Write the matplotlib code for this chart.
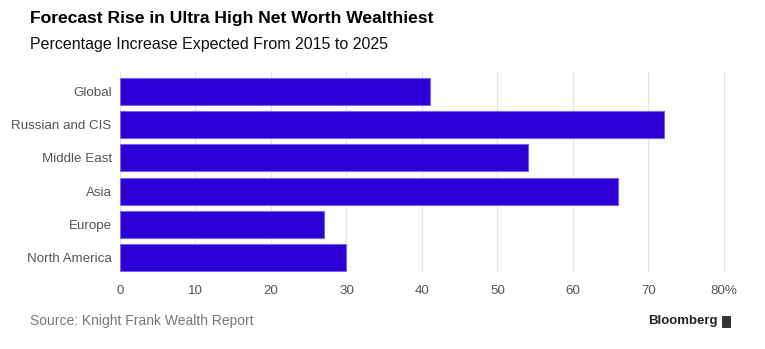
import matplotlib
matplotlib.use("Agg")
import matplotlib.pyplot as plt
from matplotlib.patches import FancyBboxPatch

regions = ["Global", "Russian and CIS", "Middle East", "Asia", "Europe", "North America"]
increase_pct = [41, 72, 54, 66, 27, 30]
x_ticks = [0, 10, 20, 30, 40, 50, 60, 70, 80]
x_tick_labels = ["0", "10", "20", "30", "40", "50", "60", "70", "80%"]

plt.rcParams["font.family"] = ["Liberation Sans", "DejaVu Sans"]

fig = plt.figure(figsize=(7.65, 3.49), dpi=100)
ax = fig.add_axes([120 / 765, 1 - 272 / 349, 619 / 765, 200 / 349])

ax.barh(range(len(regions)), increase_pct, height=0.81, color="#2a00d4",
        edgecolor="#7a63ee", linewidth=0.8, zorder=3)

ax.set_xlim(0, 82)
ax.set_ylim(5.43, -0.57)
ax.set_yticks(range(len(regions)))
ax.set_yticklabels(regions)
ax.set_xticks(x_ticks)
ax.set_xticklabels(x_tick_labels)
ax.tick_params(axis="both", length=0, labelsize=9.6, colors="#555555")
ax.tick_params(axis="y", pad=6)
ax.tick_params(axis="x", pad=9)
ax.grid(axis="x", color="#e5e5e5", linewidth=0.8, zorder=0)
for s in ax.spines.values():
    s.set_visible(False)

fig.text(30 / 765, 1 - 19 / 349, "Forecast Rise in Ultra High Net Worth Wealthiest",
         fontsize=12.6, fontweight="bold", color="#000000", va="center", ha="left")
fig.text(30 / 765, 1 - 44 / 349, "Percentage Increase Expected From 2015 to 2025",
         fontsize=11.5, color="#111111", va="center", ha="left")
fig.text(30 / 765, 1 - 321 / 349, "Source: Knight Frank Wealth Report",
         fontsize=10, color="#777777", va="center", ha="left")
fig.text(718 / 765, 1 - 321 / 349, "Bloomberg", fontsize=9.5, fontweight="bold",
         color="#222222", va="center", ha="right")

# small logo mark next to the wordmark
logo = FancyBboxPatch((722 / 765, 1 - 328 / 349), 9 / 765, 12 / 349,
                      boxstyle="round,pad=0,rounding_size=0.002",
                      transform=fig.transFigure, facecolor="#333333", edgecolor="none")
fig.patches.append(logo)

fig.savefig("out.png", dpi=100, facecolor="white")
